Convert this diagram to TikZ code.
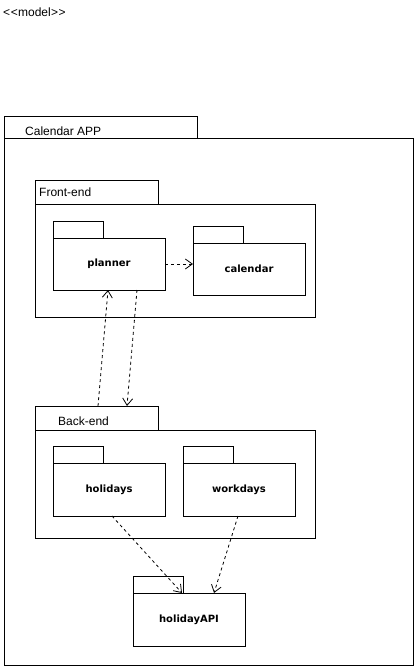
\documentclass[tikz,border=0pt]{standalone}
\usepackage{fontspec}
\setmainfont{Liberation Sans}
\newfontfamily\pkgfont{DejaVu Sans}
\usetikzlibrary{arrows.meta,positioning}
\tikzset{
    %Define standard arrow tip
    >={Straight Barb[length=7pt,width=10pt]},
    %Define style for package bodies and tabs
    pkgbody/.style={
           rectangle,
           draw=black, line width=1pt,
           outer sep=0pt,
           minimum width=112pt,
           minimum height=52pt,
           font=\pkgfont\bfseries\fontsize{10}{12}\selectfont,
           text centered,
           },
    pkgtab/.style={
           rectangle,
           draw=black, line width=1pt,
           outer sep=0pt,
           minimum width=50pt,
           minimum height=17pt,
           inner sep=0pt,
           anchor=south west,
           },
    tablabel/.style={
           inner sep=0pt,
           anchor=west,
           font=\fontsize{12}{14}\selectfont,
           },
    % Define arrow style
    dep/.style={
           ->,
           dashed,
           line width=0.8pt,
           },
}
\begin{document}
\begin{tikzpicture}[x=1pt,y=-1pt]
\useasboundingbox (0,0) rectangle (414,667);

 %title
\node[tablabel] (model) at (3,12) {<\kern0.6pt<\kern0.3pt model\kern0.3pt>\kern0.6pt>};

 %outer package
\node[pkgbody, minimum width=409pt, minimum height=527pt] (app) at (208.5,401.5) {};
\node[pkgtab, minimum width=193pt, minimum height=22pt] (apptab) at (app.north west) {};
\node[tablabel, right=21pt of apptab.west, yshift=-4pt] (applabel) {Calendar APP};

 %front-end
\node[pkgbody, minimum width=280pt, minimum height=113pt] (front) at (175,260.5) {};
\node[pkgtab, minimum width=123pt, minimum height=24pt] (fronttab) at (front.north west) {};
\node[tablabel, right=4pt of fronttab.west] (frontlabel) {Front-end};
\node[pkgbody] (planner) at (109,264) {planner};
\node[pkgtab] (plannertab) at (planner.north west) {};
\node[pkgbody, right=28pt of planner, yshift=-5pt] (calendar) {calendar};
\node[pkgtab] (calendartab) at (calendar.north west) {};

 %back-end
\node[pkgbody, minimum width=280pt, minimum height=108pt] (back) at (175,484) {};
\node[pkgtab, minimum width=123pt, minimum height=24pt] (backtab) at (back.north west) {};
\node[tablabel, right=23pt of backtab.west, yshift=-3pt] (backlabel) {Back-end};
\node[pkgbody, minimum height=53pt] (holidays) at (109,489.5) {holidays};
\node[pkgtab] (holidaystab) at (holidays.north west) {};
\node[pkgbody, minimum height=53pt, right=18pt of holidays] (workdays) {workdays};
\node[pkgtab] (workdaystab) at (workdays.north west) {};

 %api
\node[pkgbody, minimum height=53pt] (api) at (189,619.5) {holidayAPI};
\node[pkgtab] (apitab) at (api.north west) {};

 %dependencies
\draw[dep] (planner.east) -- (planner.east -| calendar.west);
\draw[dep] ([xshift=1.5pt]backtab.north) -- ([xshift=-1pt]planner.south);
\draw[dep] ([xshift=28pt]planner.south) -- ([xshift=30.5pt]backtab.north);
\draw[dep] ([xshift=3pt]holidays.south) -- ([xshift=-7pt]api.north);
\draw[dep] ([xshift=-1pt]workdays.south) -- ([xshift=25pt]api.north);

\end{tikzpicture}
\end{document}
